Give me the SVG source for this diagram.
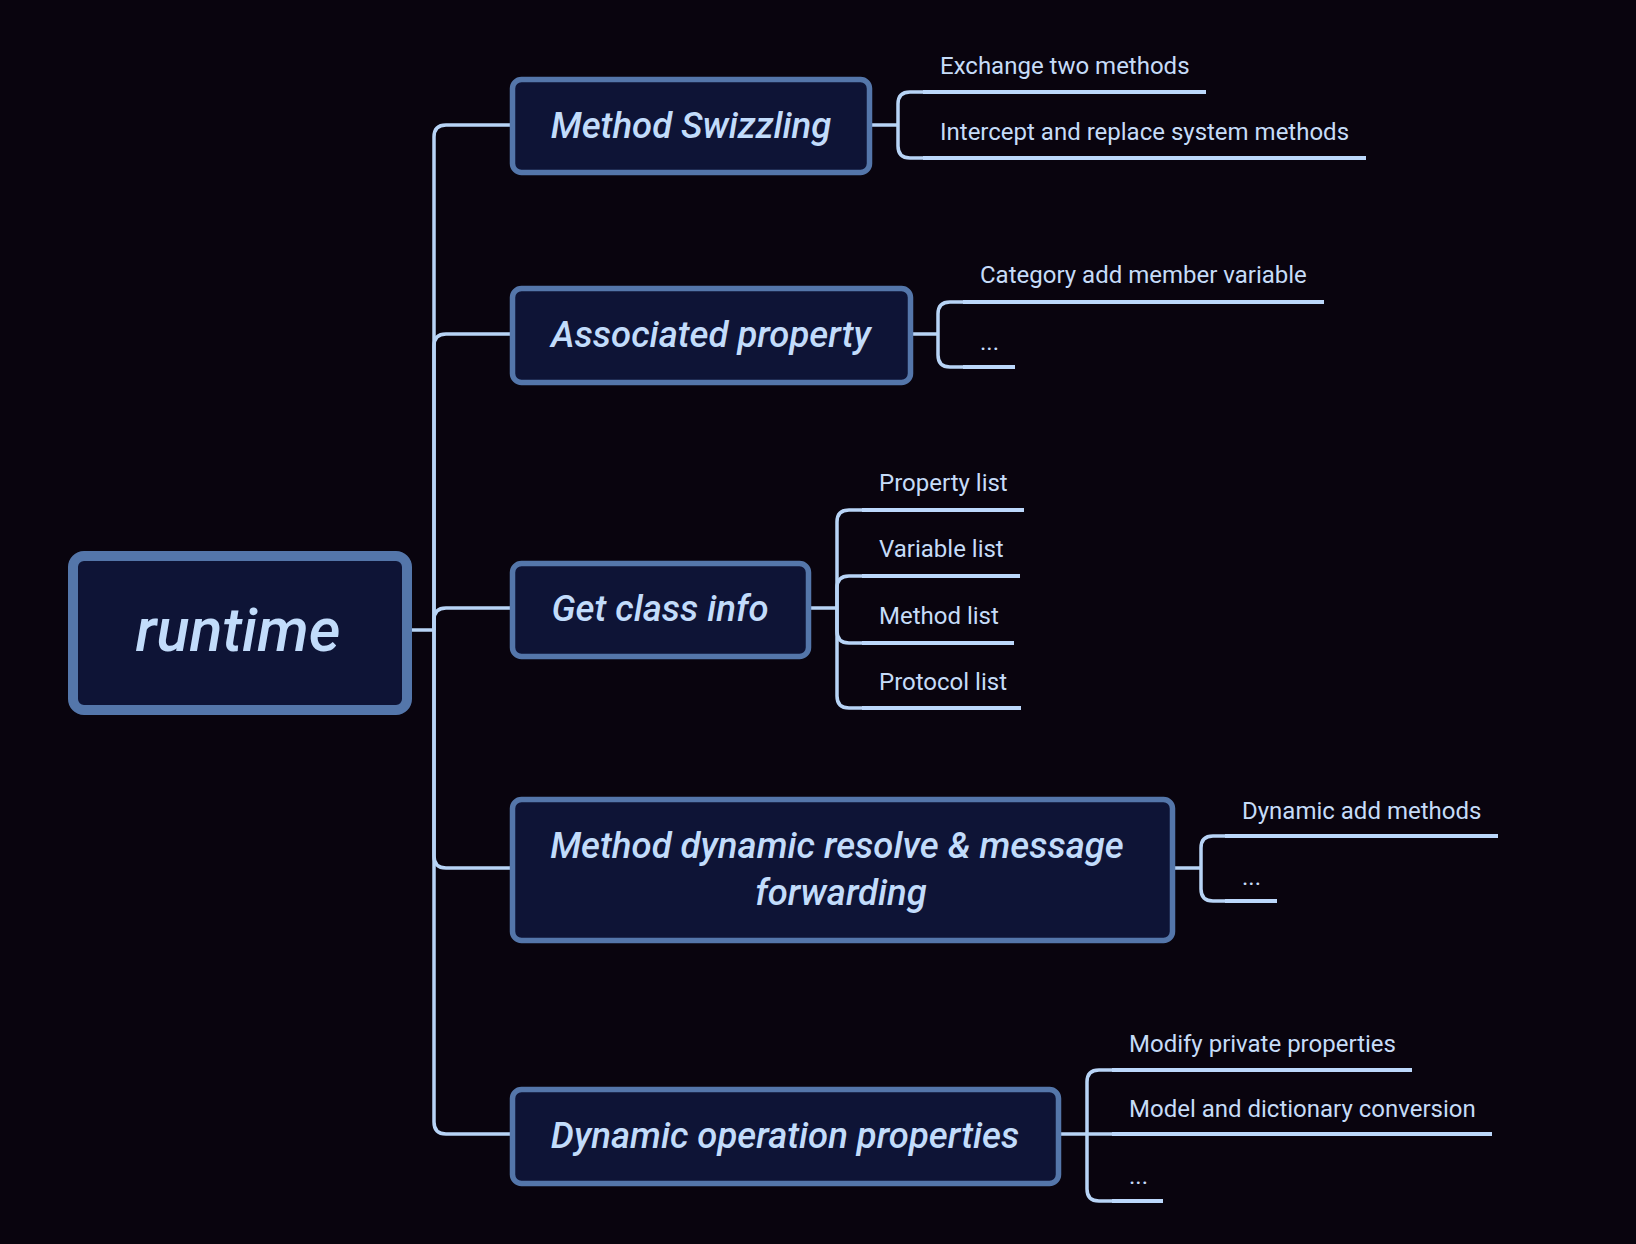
<svg xmlns="http://www.w3.org/2000/svg" width="1636" height="1244" viewBox="0 0 1636 1244">
<style>
.bg{fill:#09040e}
.box{fill:#0e1436;stroke:#5476aa;stroke-width:5.5}
.root{fill:#0e1436;stroke:#5476aa;stroke-width:10}
.main{font-family:Roboto,"Liberation Sans",sans-serif;font-style:italic;font-weight:500;font-size:36.5px;fill:#c2dcfb;text-anchor:middle}
.rt{font-family:Roboto,"Liberation Sans",sans-serif;font-style:italic;font-weight:500;font-size:61px;fill:#c2dcfb;text-anchor:middle}
.sub{font-family:Roboto,"Liberation Sans",sans-serif;font-size:24px;fill:#c6dcf8}
.con{fill:none;stroke:#b8d4f6;stroke-width:3.5;stroke-linecap:butt}
.ul{fill:none;stroke:#bcd8fb;stroke-width:4}
</style>
<rect class="bg" x="0" y="0" width="1636" height="1244"/>
<g id="connectors">
<path class="con" d="M412 630 H434"/>
<path class="con" d="M434 630 V137 Q434 125 446 125 H510"/>
<path class="con" d="M434 630 V346 Q434 334 446 334 H510"/>
<path class="con" d="M434 630 V620 Q434 608 446 608 H510"/>
<path class="con" d="M434 630 V856 Q434 868 446 868 H510"/>
<path class="con" d="M434 630 V1122 Q434 1134 446 1134 H510"/>
<path class="con" d="M872 125 H898"/>
<path class="con" d="M898 125 V104 Q898 92 910 92 H923"/>
<path class="con" d="M898 125 V146 Q898 158 910 158 H923"/>
<path class="con" d="M913 334 H938"/>
<path class="con" d="M938 334 V314 Q938 302 950 302 H963"/>
<path class="con" d="M938 334 V355 Q938 367 950 367 H963"/>
<path class="con" d="M811 608 H837"/>
<path class="con" d="M837 608 V522 Q837 510 849 510 H862"/>
<path class="con" d="M837 608 V588 Q837 576 849 576 H862"/>
<path class="con" d="M837 608 V631 Q837 643 849 643 H862"/>
<path class="con" d="M837 608 V696 Q837 708 849 708 H862"/>
<path class="con" d="M1175 868 H1201"/>
<path class="con" d="M1201 868 V848 Q1201 836 1213 836 H1225"/>
<path class="con" d="M1201 868 V889 Q1201 901 1213 901 H1225"/>
<path class="con" d="M1061 1134 H1087"/>
<path class="con" d="M1087 1134 V1082 Q1087 1070 1099 1070 H1112"/>
<path class="con" d="M1087 1134 H1112"/>
<path class="con" d="M1087 1134 V1189 Q1087 1201 1099 1201 H1112"/>
</g>
<g id="runtime">
<rect class="root" x="73" y="556" width="334" height="154" rx="11"/>
<text class="rt" x="238" y="651">runtime</text>
</g>
<g id="method-swizzling">
<rect class="box" x="512.5" y="79.5" width="357" height="93" rx="9"/>
<text class="main" x="691" y="138">Method Swizzling</text>
</g>
<g id="associated-property">
<rect class="box" x="512.5" y="288.5" width="398" height="94" rx="9"/>
<text class="main" x="711" y="347">Associated property</text>
</g>
<g id="get-class-info">
<rect class="box" x="512.5" y="563.5" width="296" height="93" rx="9"/>
<text class="main" x="660" y="621">Get class info</text>
</g>
<g id="method-dynamic">
<rect class="box" x="512.5" y="799.5" width="660" height="141" rx="9"/>
<text class="main" x="837" y="858">Method dynamic resolve &amp; message</text>
<text class="main" x="841" y="905">forwarding</text>
</g>
<g id="dynamic-operation">
<rect class="box" x="512.5" y="1089.5" width="546" height="94" rx="9"/>
<text class="main" x="785" y="1148">Dynamic operation properties</text>
</g>
<g id="exchange-two-methods">
<text class="sub" x="940" y="74">Exchange two methods</text>
<path class="ul" d="M923 92 H1206"/>
</g>
<g id="intercept-replace">
<text class="sub" x="940" y="140">Intercept and replace system methods</text>
<path class="ul" d="M923 158 H1366"/>
</g>
<g id="category-add">
<text class="sub" x="980" y="283">Category add member variable</text>
<path class="ul" d="M963 302 H1324"/>
</g>
<g id="assoc-more">
<text class="sub" x="980" y="350">...</text>
<path class="ul" d="M963 367 H1015"/>
</g>
<g id="property-list">
<text class="sub" x="879" y="491">Property list</text>
<path class="ul" d="M862 510 H1024"/>
</g>
<g id="variable-list">
<text class="sub" x="879" y="557">Variable list</text>
<path class="ul" d="M862 576 H1020"/>
</g>
<g id="method-list">
<text class="sub" x="879" y="624">Method list</text>
<path class="ul" d="M862 643 H1014"/>
</g>
<g id="protocol-list">
<text class="sub" x="879" y="690">Protocol list</text>
<path class="ul" d="M862 708 H1021"/>
</g>
<g id="dynamic-add-methods">
<text class="sub" x="1242" y="819">Dynamic add methods</text>
<path class="ul" d="M1225 836 H1498"/>
</g>
<g id="dynamic-more">
<text class="sub" x="1242" y="885">...</text>
<path class="ul" d="M1225 901 H1277"/>
</g>
<g id="modify-private">
<text class="sub" x="1129" y="1052">Modify private properties</text>
<path class="ul" d="M1112 1070 H1412"/>
</g>
<g id="model-dictionary">
<text class="sub" x="1129" y="1117">Model and dictionary conversion</text>
<path class="ul" d="M1112 1134 H1492"/>
</g>
<g id="operation-more">
<text class="sub" x="1129" y="1184">...</text>
<path class="ul" d="M1112 1201 H1163"/>
</g>
</svg>
